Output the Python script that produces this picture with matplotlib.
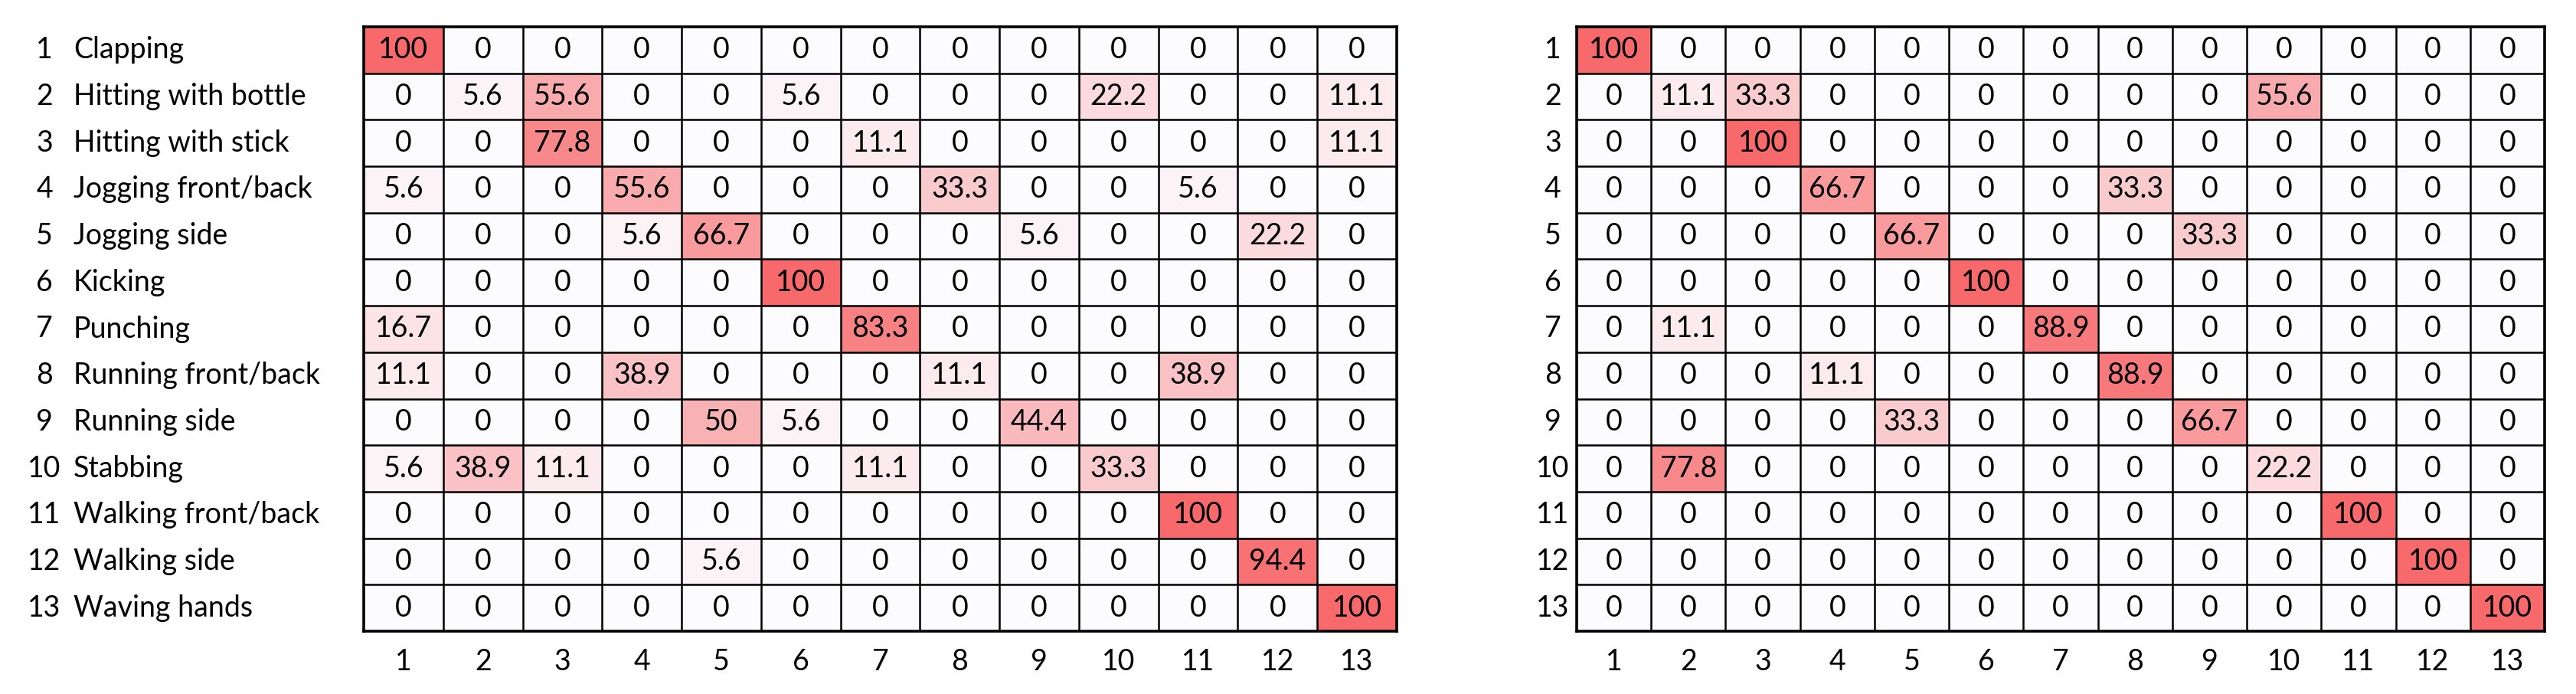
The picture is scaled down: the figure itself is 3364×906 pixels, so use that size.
import matplotlib.pyplot as plt
import matplotlib.transforms as mtransforms
import numpy as np
from matplotlib.colors import LinearSegmentedColormap

classes = ["Clapping", "Hitting with bottle", "Hitting with stick", "Jogging front/back",
           "Jogging side", "Kicking", "Punching", "Running front/back", "Running side",
           "Stabbing", "Walking front/back", "Walking side", "Waving hands"]
class_ids = [str(i) for i in range(1, 14)]

matriz_esq = [
    [100, 0, 0, 0, 0, 0, 0, 0, 0, 0, 0, 0, 0],
    [0, 5.6, 55.6, 0, 0, 5.6, 0, 0, 0, 22.2, 0, 0, 11.1],
    [0, 0, 77.8, 0, 0, 0, 11.1, 0, 0, 0, 0, 0, 11.1],
    [5.6, 0, 0, 55.6, 0, 0, 0, 33.3, 0, 0, 5.6, 0, 0],
    [0, 0, 0, 5.6, 66.7, 0, 0, 0, 5.6, 0, 0, 22.2, 0],
    [0, 0, 0, 0, 0, 100, 0, 0, 0, 0, 0, 0, 0],
    [16.7, 0, 0, 0, 0, 0, 83.3, 0, 0, 0, 0, 0, 0],
    [11.1, 0, 0, 38.9, 0, 0, 0, 11.1, 0, 0, 38.9, 0, 0],
    [0, 0, 0, 0, 50, 5.6, 0, 0, 44.4, 0, 0, 0, 0],
    [5.6, 38.9, 11.1, 0, 0, 0, 11.1, 0, 0, 33.3, 0, 0, 0],
    [0, 0, 0, 0, 0, 0, 0, 0, 0, 0, 100, 0, 0],
    [0, 0, 0, 0, 5.6, 0, 0, 0, 0, 0, 0, 94.4, 0],
    [0, 0, 0, 0, 0, 0, 0, 0, 0, 0, 0, 0, 100],
]

matriz_dir = [
    [100, 0, 0, 0, 0, 0, 0, 0, 0, 0, 0, 0, 0],
    [0, 11.1, 33.3, 0, 0, 0, 0, 0, 0, 55.6, 0, 0, 0],
    [0, 0, 100, 0, 0, 0, 0, 0, 0, 0, 0, 0, 0],
    [0, 0, 0, 66.7, 0, 0, 0, 33.3, 0, 0, 0, 0, 0],
    [0, 0, 0, 0, 66.7, 0, 0, 0, 33.3, 0, 0, 0, 0],
    [0, 0, 0, 0, 0, 100, 0, 0, 0, 0, 0, 0, 0],
    [0, 11.1, 0, 0, 0, 0, 88.9, 0, 0, 0, 0, 0, 0],
    [0, 0, 0, 11.1, 0, 0, 0, 88.9, 0, 0, 0, 0, 0],
    [0, 0, 0, 0, 33.3, 0, 0, 0, 66.7, 0, 0, 0, 0],
    [0, 77.8, 0, 0, 0, 0, 0, 0, 0, 22.2, 0, 0, 0],
    [0, 0, 0, 0, 0, 0, 0, 0, 0, 0, 100, 0, 0],
    [0, 0, 0, 0, 0, 0, 0, 0, 0, 0, 0, 100, 0],
    [0, 0, 0, 0, 0, 0, 0, 0, 0, 0, 0, 0, 100],
]

plt.rcParams['font.family'] = ['Lato', 'DejaVu Sans']
FS = 27

cmap = LinearSegmentedColormap.from_list("excel", ["#FCFCFF", "#F8696B"])

W, H = 3364, 906
fig = plt.figure(figsize=(W / 100, H / 100), dpi=100)


def desenhar(ax, dados):
    m = np.array(dados, dtype=float)
    n = m.shape[0]
    ax.imshow(m, cmap=cmap, vmin=0, vmax=100, aspect="auto", interpolation="nearest")
    for i in range(n):
        for j in range(n):
            ax.text(j, i, "{:g}".format(m[i, j]), ha="center", va="center",
                    fontsize=FS, color="black")
    for k in np.arange(0.5, n - 1, 1.0):
        ax.axhline(k, color="black", lw=1.8)
        ax.axvline(k, color="black", lw=1.8)
    for s in ax.spines.values():
        s.set_linewidth(2.6)
        s.set_color("black")
    ax.set_xticks(range(n))
    ax.set_xticklabels(class_ids, fontsize=FS)
    ax.set_yticks([])
    ax.tick_params(axis="x", length=0, pad=16)
    ax.set_xlim(-0.5, n - 0.5)
    ax.set_ylim(n - 0.5, -0.5)


top, bottom = 35, 824
ax1 = fig.add_axes([475 / W, 1 - bottom / H, (1824 - 475) / W, (bottom - top) / H])
ax2 = fig.add_axes([2059 / W, 1 - bottom / H, (3323 - 2059) / W, (bottom - top) / H])

desenhar(ax1, matriz_esq)
desenhar(ax2, matriz_dir)

tr1 = mtransforms.blended_transform_factory(fig.transFigure, ax1.transData)
tr2 = mtransforms.blended_transform_factory(fig.transFigure, ax2.transData)
for i, nome in enumerate(classes):
    ax1.text(58 / W, i, class_ids[i], transform=tr1, ha="center", va="center", fontsize=FS)
    ax1.text(96 / W, i, nome, transform=tr1, ha="left", va="center", fontsize=FS)
    ax2.text(2028 / W, i, class_ids[i], transform=tr2, ha="center", va="center", fontsize=FS)

fig.savefig("out.png", dpi=100, facecolor="white")
